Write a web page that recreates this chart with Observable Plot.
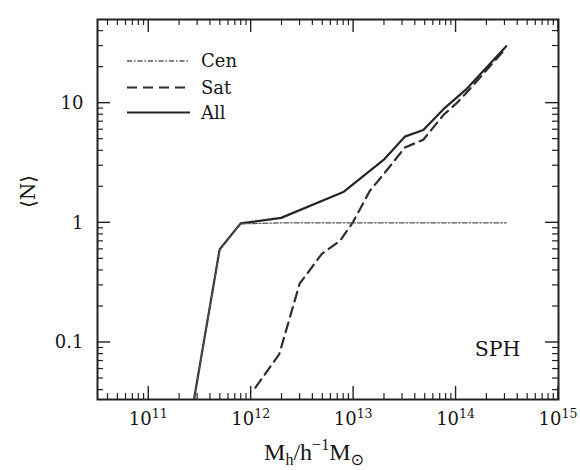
<!DOCTYPE html>
<html>
<head>
<meta charset="utf-8">
<script src="https://cdn.jsdelivr.net/npm/d3@7"></script>
<script src="https://cdn.jsdelivr.net/npm/@observablehq/plot@0.6"></script>
<style>
  html, body { margin: 0; padding: 0; background: #fff; }
  #chart { width: 580px; height: 470px; }
</style>
</head>
<body>
<div id="chart"></div>
<script>
// ---- data ----
const allMass = [2.63e11, 4.92e11, 7.89e11, 1.96e12, 8.04e12, 2.0e13, 3.16e13, 4.79e13, 7.57e13, 1.24e14, 3.09e14];
const allN    = [0.026,   0.60,    0.99,    1.10,    1.82,    3.41,   5.25,    5.97,    8.95,    12.9,    29.9];

const cenMass = [2.63e11, 4.92e11, 7.89e11, 1.96e12, 8.04e12, 2.0e13, 3.16e13, 4.79e13, 7.57e13, 1.24e14, 3.09e14];
const cenN    = [0.026,   0.59,    0.98,    1.0,     1.0,     1.0,    1.0,     1.0,     1.0,     1.0,     1.0];

const satMass = [1.10e12, 1.88e12, 2.97e12, 4.89e12, 7.4e12, 9.9e12, 1.44e13, 2.0e13, 3.16e13, 4.79e13, 7.57e13, 1.0e14, 1.24e14, 3.09e14];
const satN    = [0.042,   0.080,   0.31,    0.55,    0.71,   1.02,   1.85,    2.6,    4.25,    4.95,    8.0,     9.9,    12.0,    29.0];

const seriesNames = ["Cen", "Sat", "All"];

const xTicks = [1e11, 1e12, 1e13, 1e14, 1e15];
const xTickBase = ["10", "10", "10", "10", "10"];
const xTickExp = ["11", "12", "13", "14", "15"];
const yTicks = [0.1, 1, 10];
const yTickLabels = ["0.1", "1", "10"];
const xDomain = [3.16e10, 1e15];
const yDomain = [0.0334, 50];
const sideLabel = "SPH";
const yLabel = "⟨N⟩";

// ---- minor tick positions (2..9 × decade, within domain) ----
function minors(domain) {
  const out = [];
  for (let e = -3; e <= 16; e++) {
    for (let k = 2; k <= 9; k++) {
      const v = k * Math.pow(10, e);
      if (v > domain[0] * 1.0001 && v < domain[1] * 0.9999) out.push(v);
    }
  }
  return out;
}
const xMinor = minors(xDomain);
const yMinor = minors(yDomain);

const W = 580, H = 470, mL = 97, mR = 22, mT = 19, mB = 71;
const tickCol = "#222";
const textCol = "#161616";

const allData = allMass.map((m, i) => ({m, n: allN[i]}));
const cenData = cenMass.map((m, i) => ({m, n: cenN[i]}));
const satData = satMass.map((m, i) => ({m, n: satN[i]}));

const styles = {
  Cen: {stroke: "#555", strokeWidth: 1.3, strokeDasharray: "5,2,1.5,2"},
  Sat: {stroke: "#2e2e2e", strokeWidth: 2.2, strokeDasharray: "10,6"},
  All: {stroke: "#252525", strokeWidth: 2.2, strokeDasharray: null}
};

const chart = Plot.plot({
  width: W, height: H,
  marginLeft: mL, marginRight: mR, marginTop: mT, marginBottom: mB,
  style: {fontFamily: "'DejaVu Serif', serif", background: "white", color: "#222"},
  x: {type: "log", domain: xDomain, axis: null},
  y: {type: "log", domain: yDomain, axis: null},
  marks: [
    // y tick labels
    Plot.text(yTicks, {y: d => d, text: yTickLabels, frameAnchor: "left", textAnchor: "end", dx: -14, fontSize: 18, fill: textCol}),
    // y label
    Plot.text([yLabel], {frameAnchor: "left", rotate: -90, dx: -69, dy: -1.5, fontSize: 20, fill: textCol}),
    // curves
    Plot.line(allData, {x: "m", y: "n", ...styles.All, clip: true}),
    Plot.line(satData, {x: "m", y: "n", ...styles.Sat, clip: true}),
    Plot.line(cenData, {x: "m", y: "n", ...styles.Cen, clip: true}),
    // panel label
    Plot.text([sideLabel], {frameAnchor: "bottom-right", textAnchor: "end", lineAnchor: "bottom", dx: -38, dy: -44, fontSize: 20.5, fill: textCol}),
    Plot.frame({stroke: "#222", strokeWidth: 2})
  ]
});

document.getElementById("chart").appendChild(chart);

const svg = d3.select(chart);
const sx = chart.scale("x"), sy = chart.scale("y");
const x0 = mL, x1 = W - mR, y0 = mT, y1 = H - mB;

// ---- inward ticks on all four sides, placed with Plot's own scales ----
const tg = svg.append("g").attr("stroke", tickCol).attr("fill", "none");
function xt(vals, len, sw) {
  vals.forEach(v => {
    const px = sx.apply(v);
    tg.append("line").attr("x1", px).attr("x2", px).attr("y1", y1).attr("y2", y1 - len).attr("stroke-width", sw);
    tg.append("line").attr("x1", px).attr("x2", px).attr("y1", y0).attr("y2", y0 + len).attr("stroke-width", sw);
  });
}
function yt(vals, len, sw) {
  vals.forEach(v => {
    const py = sy.apply(v);
    tg.append("line").attr("y1", py).attr("y2", py).attr("x1", x0).attr("x2", x0 + len).attr("stroke-width", sw);
    tg.append("line").attr("y1", py).attr("y2", py).attr("x1", x1).attr("x2", x1 - len).attr("stroke-width", sw);
  });
}
xt(xMinor, 6, 1.2);
xt(xTicks, 13, 1.4);
yt(yMinor, 6, 1.2);
yt(yTicks, 13, 1.4);

// ---- x tick labels: 10 with superscript exponent ----
const xtl = svg.append("g").attr("font-family", "'DejaVu Serif', serif").attr("fill", textCol);
xTicks.forEach((v, i) => {
  const t = xtl.append("text")
    .attr("x", sx.apply(v)).attr("y", y1 + 26)
    .attr("text-anchor", "middle")
    .attr("font-size", 18);
  t.append("tspan").text(xTickBase[i]);
  t.append("tspan").attr("font-size", 12.5).attr("dy", -7).text(xTickExp[i]);
});

// ---- legend (inside the frame, top-left) ----
const leg = svg.append("g").attr("class", "legend");
const legY = [61, 87.5, 112.5];
seriesNames.forEach((name, i) => {
  const s = styles[name];
  leg.append("line")
    .attr("x1", 127).attr("x2", 190)
    .attr("y1", legY[i]).attr("y2", legY[i])
    .attr("stroke", s.stroke).attr("stroke-width", s.strokeWidth)
    .attr("stroke-dasharray", s.strokeDasharray);
  leg.append("text")
    .attr("x", 201).attr("y", legY[i] + 6)
    .attr("text-anchor", "start")
    .attr("font-family", "'DejaVu Serif', serif")
    .attr("font-size", 18)
    .attr("fill", textCol)
    .text(name);
});

// ---- x-axis label ----
const xl = svg.append("text")
  .attr("x", 314).attr("y", 460)
  .attr("text-anchor", "middle")
  .attr("font-family", "'Liberation Serif', 'DejaVu Serif', serif")
  .attr("font-size", 24)
  .attr("fill", textCol);
xl.append("tspan").text("M");
xl.append("tspan").attr("font-size", 16).attr("dy", 5).text("h");
xl.append("tspan").attr("dy", -5).text("/h");
xl.append("tspan").attr("font-size", 16).attr("dy", -10).text("−1");
xl.append("tspan").attr("dy", 10).text("M");
xl.append("tspan").attr("font-size", 16).attr("dy", 5).attr("font-family", "'DejaVu Sans', sans-serif").text("⊙");
</script>
</body>
</html>
